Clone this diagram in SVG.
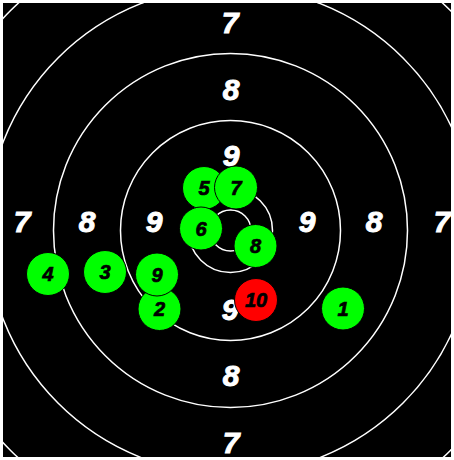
<svg xmlns="http://www.w3.org/2000/svg" width="454" height="460" viewBox="0 0 454 460">
<style>
.ring{fill:none;stroke:#ffffff;stroke-width:1.5}
.lbl{font-family:"Liberation Sans",Arial,sans-serif;font-weight:bold;font-style:italic;font-size:30px;fill:#ffffff;stroke:#ffffff;stroke-width:1;text-anchor:middle}
.shot{stroke:#000000;stroke-width:1}
.hit{fill:#00ff00}
.last{fill:#ff0000}
.num{font-family:"Liberation Sans",Arial,sans-serif;font-weight:bold;font-style:italic;font-size:20px;fill:#000000;stroke:#000000;stroke-width:0.7;text-anchor:middle}
</style>
<defs>
<clipPath id="tgt"><rect x="3" y="3" width="448" height="454"/></clipPath>
</defs>
<rect x="0" y="0" width="454" height="460" fill="#ffffff"/>
<rect x="3" y="3" width="448" height="454" fill="#000000"/>
<g id="rings" clip-path="url(#tgt)">
<circle class="ring" cx="230.5" cy="230.5" r="20.5"/>
<circle class="ring" cx="230.5" cy="230.5" r="42"/>
<circle class="ring" cx="230.5" cy="230.5" r="110"/>
<circle class="ring" cx="230.5" cy="230.5" r="177"/>
<circle class="ring" cx="230.5" cy="230.5" r="244"/>
<circle class="ring" cx="230.5" cy="230.5" r="311"/>
</g>
<g id="labels">
<text class="lbl" x="230" y="33">7</text>
<text class="lbl" x="231" y="100">8</text>
<text class="lbl" x="231" y="166">9</text>
<text class="lbl" x="230" y="320">9</text>
<text class="lbl" x="231" y="386">8</text>
<text class="lbl" x="231" y="453">7</text>
<text class="lbl" x="22" y="232">7</text>
<text class="lbl" x="87" y="232">8</text>
<text class="lbl" x="154" y="232">9</text>
<text class="lbl" x="307" y="232">9</text>
<text class="lbl" x="374" y="232">8</text>
<text class="lbl" x="442" y="232">7</text>
</g>
<g id="connectors"></g>
<g id="shot1"><circle class="shot hit" cx="343" cy="308.5" r="21.5"/><text class="num" x="343" y="315.5">1</text></g>
<g id="shot2"><circle class="shot hit" cx="159.5" cy="309" r="21.5"/><text class="num" x="159.5" y="316">2</text></g>
<g id="shot3"><circle class="shot hit" cx="105" cy="272" r="21.5"/><text class="num" x="105" y="279">3</text></g>
<g id="shot4"><circle class="shot hit" cx="48" cy="274" r="21.5"/><text class="num" x="48" y="281">4</text></g>
<g id="shot5"><circle class="shot hit" cx="204" cy="188" r="21.5"/><text class="num" x="204" y="195">5</text></g>
<g id="shot6"><circle class="shot hit" cx="201" cy="228.5" r="21.5"/><text class="num" x="201" y="235.5">6</text></g>
<g id="shot7"><circle class="shot hit" cx="236" cy="187.5" r="21.5"/><text class="num" x="236" y="194.5">7</text></g>
<g id="shot8"><circle class="shot hit" cx="255.5" cy="246" r="21.5"/><text class="num" x="255.5" y="253">8</text></g>
<g id="shot9"><circle class="shot hit" cx="157" cy="274.5" r="21.5"/><text class="num" x="157" y="281.5">9</text></g>
<g id="shot10"><circle class="shot last" cx="256" cy="300" r="21.5"/><text class="num" x="256" y="307">10</text></g>
</svg>
